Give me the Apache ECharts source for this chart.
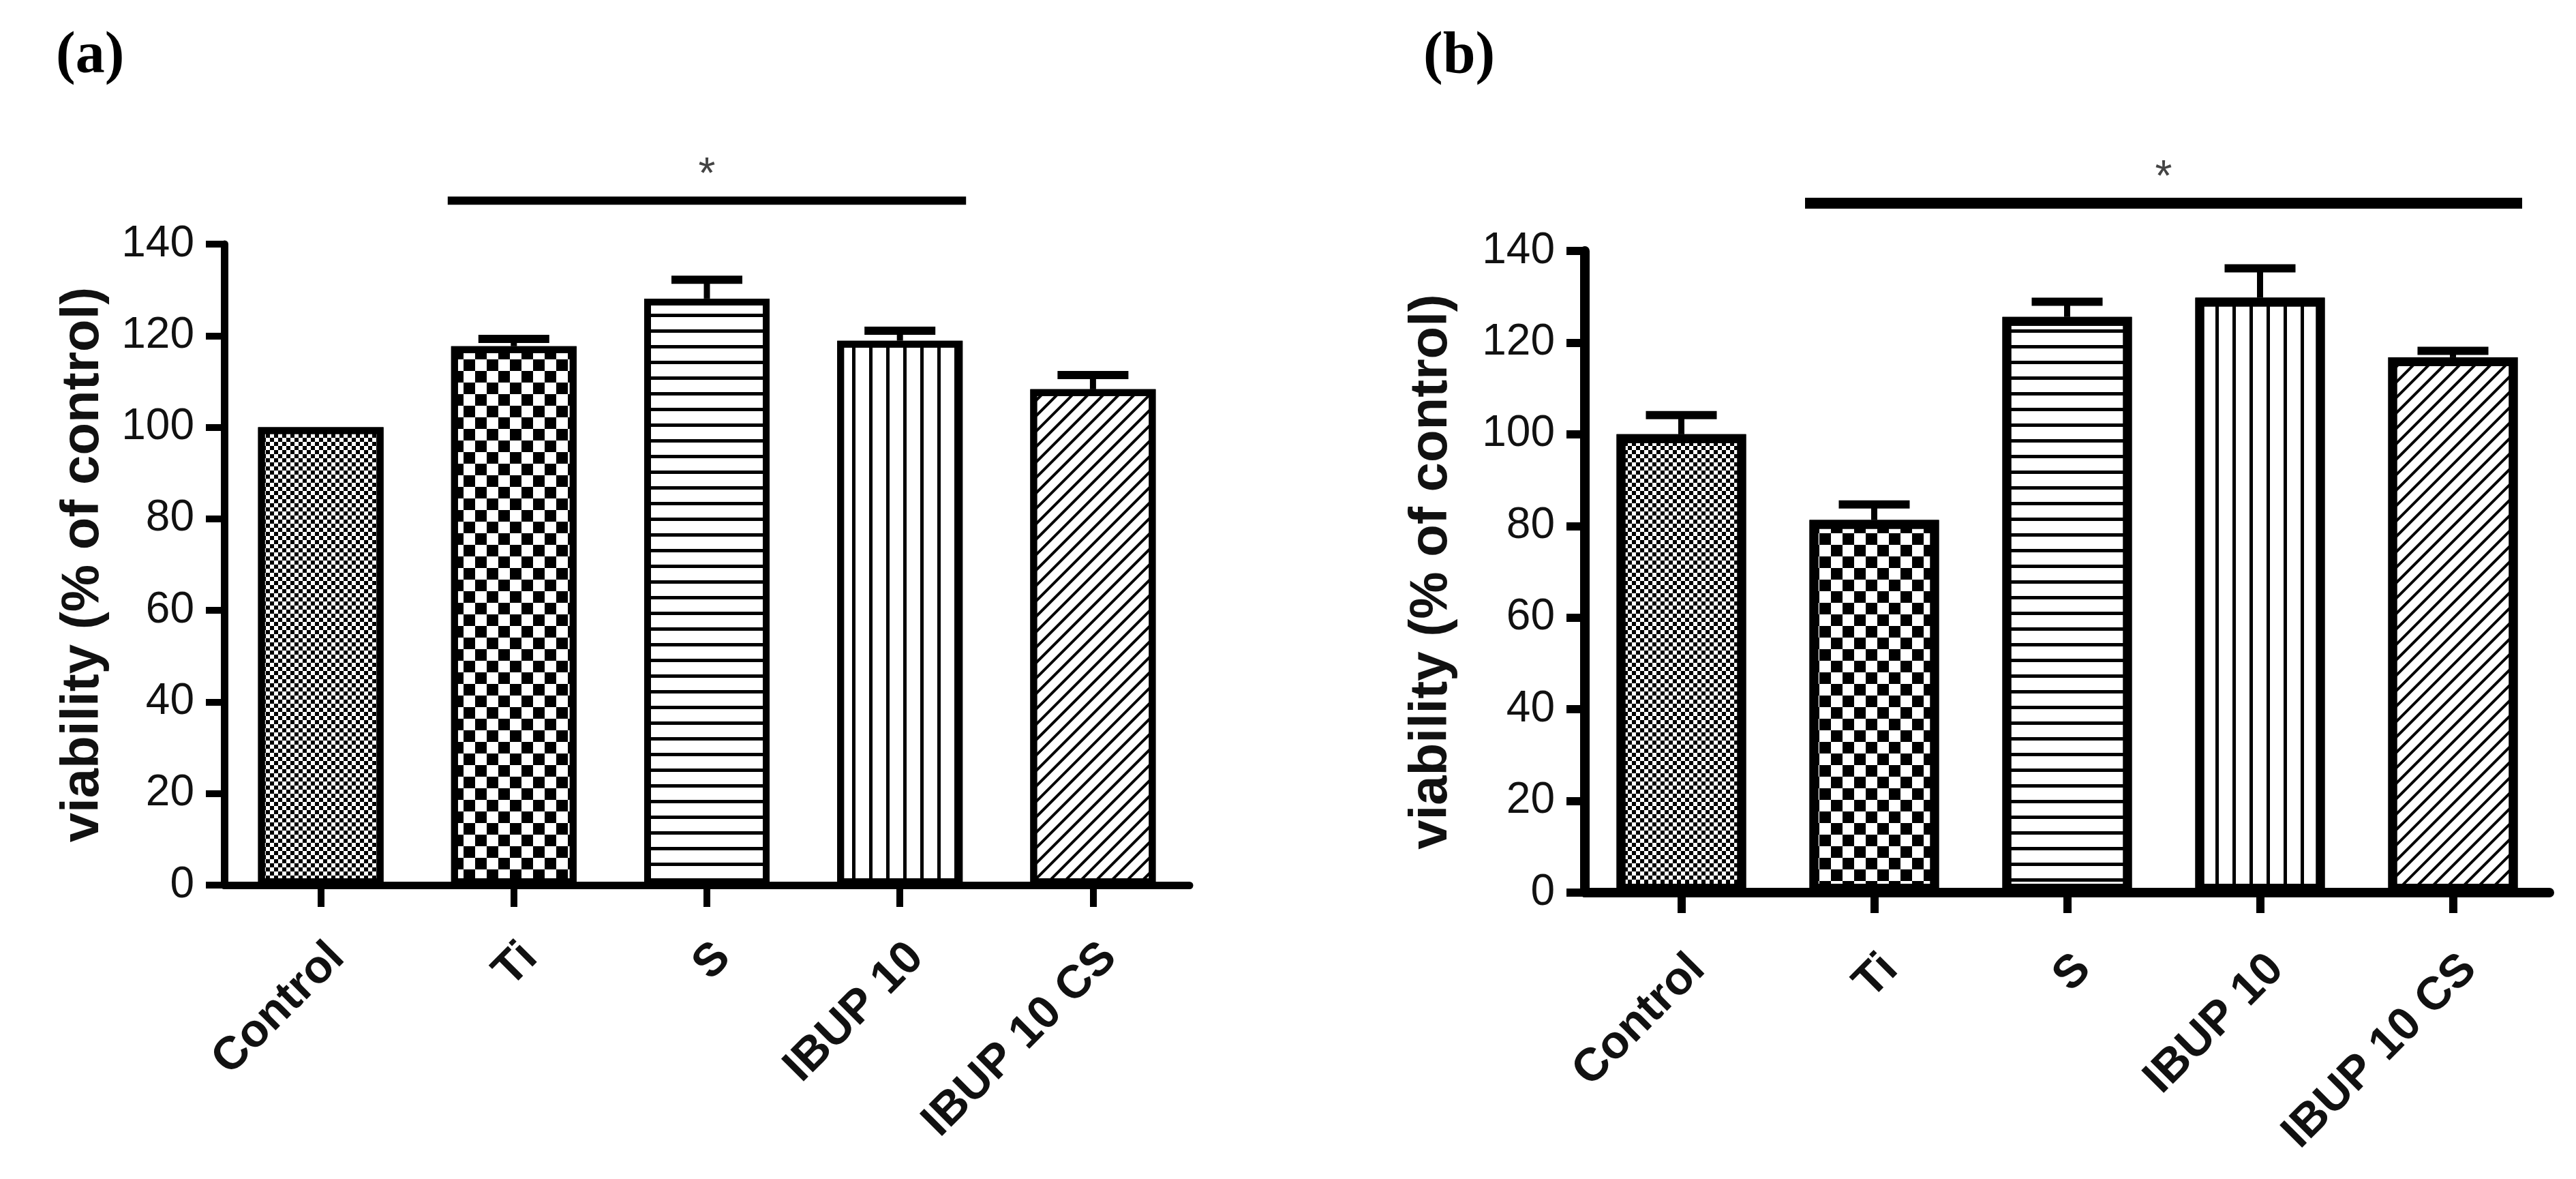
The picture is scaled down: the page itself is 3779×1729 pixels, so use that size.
<!DOCTYPE html>
<html>
<head>
<meta charset="utf-8">
<title>viability</title>
<script src="https://cdn.jsdelivr.net/npm/echarts@6/dist/echarts.min.js"></script>
<style>
  html, body { margin: 0; padding: 0; background: #fff; }
  #main { width: 3779px; height: 1729px; }
</style>
</head>
<body>
<div id="main"></div>
<script>
// data
var categories = ['Control', 'Ti', 'S', 'IBUP 10', 'IBUP 10 CS'];

var valuesA = [100, 117.7, 128.1, 118.9, 108.3];
var errorsA = [0, 1.6, 4.1, 2.2, 3.1];
var sigRangeA = ['Ti', 'IBUP 10'];
var sigLevelA = 149.5;

var valuesB = [100, 81.3, 125.6, 129.8, 116.8];
var errorsB = [4.2, 3.4, 3.3, 6.4, 1.4];
var sigRangeB = ['Ti', 'IBUP 10 CS'];
var sigLevelB = 150.4;

var yMin = 0, yMax = 140, yStep = 20;
var yTitle = 'viability (% of control)';
var sigMark = '*';
var panelLabels = ['(a)', '(b)'];

var SANS = "'Liberation Sans', Arial, sans-serif";
var SERIF = "'Liberation Serif', 'Times New Roman', serif";

// fill patterns, one per group
var patterns = [
    { symbol: 'rect', symbolSize: 1, dashArrayX: [[6, 6], [0, 6, 6, 0]], dashArrayY: [6, 0], color: '#000' },
    { symbol: 'rect', symbolSize: 1, dashArrayX: [[17, 17], [0, 17, 17, 0]], dashArrayY: [17, 0], color: '#000' },
    { symbol: 'rect', symbolSize: 1, dashArrayX: [200, 0], dashArrayY: [5, 18], color: '#000' },
    { symbol: 'rect', symbolSize: 1, dashArrayX: [5, 20], dashArrayY: [200, 0], color: '#000' },
    { symbol: 'rect', symbolSize: 1, dashArrayX: [4, 12], dashArrayY: [200, 0], rotation: Math.PI / 4, color: '#000' }
];

function errorBar(capW, capH, stemW) {
    return function (params, api) {
        var err = api.value(2);
        if (!err) return null;
        var base = api.coord([api.value(0), api.value(1)]);
        var top = api.coord([api.value(0), api.value(1) + err]);
        return {
            type: 'group',
            children: [
                { type: 'rect', shape: { x: base[0] - stemW / 2, y: top[1], width: stemW, height: base[1] - top[1] }, style: { fill: '#000' } },
                { type: 'rect', shape: { x: top[0] - capW / 2, y: top[1] - capH / 2, width: capW, height: capH }, style: { fill: '#000' } }
            ]
        };
    };
}

function sigBar(halfBar, thick) {
    return function (params, api) {
        var p1 = api.coord([api.value(0), api.value(2)]);
        var p2 = api.coord([api.value(1), api.value(2)]);
        var x1 = p1[0] - halfBar, x2 = p2[0] + halfBar;
        return {
            type: 'group',
            children: [
                { type: 'rect', shape: { x: x1, y: p1[1] - thick / 2, width: x2 - x1, height: thick }, style: { fill: '#000' } },
                { type: 'text', x: (x1 + x2) / 2, y: p1[1] - 36,
                  style: { text: sigMark, fontSize: 64, fontFamily: SANS, fill: '#444',
                           align: 'center', verticalAlign: 'middle', textAlign: 'center', textVerticalAlign: 'middle' } }
            ]
        };
    };
}

function panel(idx, values, errors, sigRange, sigLevel, s) {
    var x = {
        type: 'category', gridIndex: idx, data: categories, boundaryGap: true,
        axisLine: { show: true, lineStyle: { color: '#000', width: s.axisW } },
        axisTick: { show: true, alignWithLabel: true, length: s.xTick, lineStyle: { color: '#000', width: s.tickW } },
        axisLabel: { interval: 0, rotate: 45, fontSize: 68, fontWeight: 'bold', fontFamily: SANS,
                     color: '#111', margin: s.xMargin, verticalAlign: 'top' },
        splitLine: { show: false }
    };
    var y = {
        type: 'value', gridIndex: idx, min: yMin, max: yMax, interval: yStep,
        name: yTitle, nameLocation: 'middle', nameGap: s.nameGap,
        nameTextStyle: { fontSize: 78, fontWeight: 'bold', fontFamily: SANS, color: '#111' },
        axisLine: { show: true, lineStyle: { color: '#000', width: s.axisW } },
        axisTick: { show: true, length: 27, lineStyle: { color: '#000', width: s.tickW } },
        axisLabel: { fontSize: 64, fontFamily: SANS, color: '#111', margin: 44 },
        splitLine: { show: false }
    };
    var series = [
        {
            type: 'bar', xAxisIndex: idx, yAxisIndex: idx, barWidth: s.barW, z: 3,
            data: values.map(function (v, i) {
                return { value: v, itemStyle: { color: '#fff', borderColor: '#000', borderWidth: s.border, decal: patterns[i] } };
            })
        },
        {
            type: 'custom', xAxisIndex: idx, yAxisIndex: idx, z: 4,
            renderItem: errorBar(104, 12, 9),
            encode: { x: 0, y: 1 },
            data: values.map(function (v, i) { return [i, v, errors[i]]; })
        },
        {
            type: 'custom', xAxisIndex: idx, yAxisIndex: idx, z: 4,
            renderItem: sigBar((s.barW + s.border) / 2, s.sigW),
            encode: { x: 0, y: 2 },
            data: [[categories.indexOf(sigRange[0]), categories.indexOf(sigRange[1]), sigLevel]]
        }
    ];
    return { x: x, y: y, series: series };
}

var pa = panel(0, valuesA, errorsA, sigRangeA, sigLevelA,
    { axisW: 11, tickW: 10, xTick: 32, border: 10, barW: 184, sigW: 12, xMargin: 72, nameGap: 168 });
var pb = panel(1, valuesB, errorsB, sigRangeB, sigLevelB,
    { axisW: 14, tickW: 12, xTick: 30, border: 13, barW: 190, sigW: 16, xMargin: 78, nameGap: 186 });

var chart = echarts.init(document.getElementById('main'));
var option = {
    animation: false,
    backgroundColor: '#fff',
    title: [
        { text: panelLabels[0], left: 77, top: 36, textStyle: { fontSize: 86, fontWeight: 'bold', fontFamily: SERIF, color: '#000' } },
        { text: panelLabels[1], left: 2083, top: 36, textStyle: { fontSize: 86, fontWeight: 'bold', fontFamily: SERIF, color: '#000' } }
    ],
    grid: [
        { left: 329, top: 358, width: 1416, height: 940, outerBoundsMode: 'none' },
        { left: 2325, top: 368, width: 1415, height: 941, outerBoundsMode: 'none' }
    ],
    xAxis: [pa.x, pb.x],
    yAxis: [pa.y, pb.y],
    series: pa.series.concat(pb.series)
};
chart.setOption(option);
</script>
</body>
</html>
